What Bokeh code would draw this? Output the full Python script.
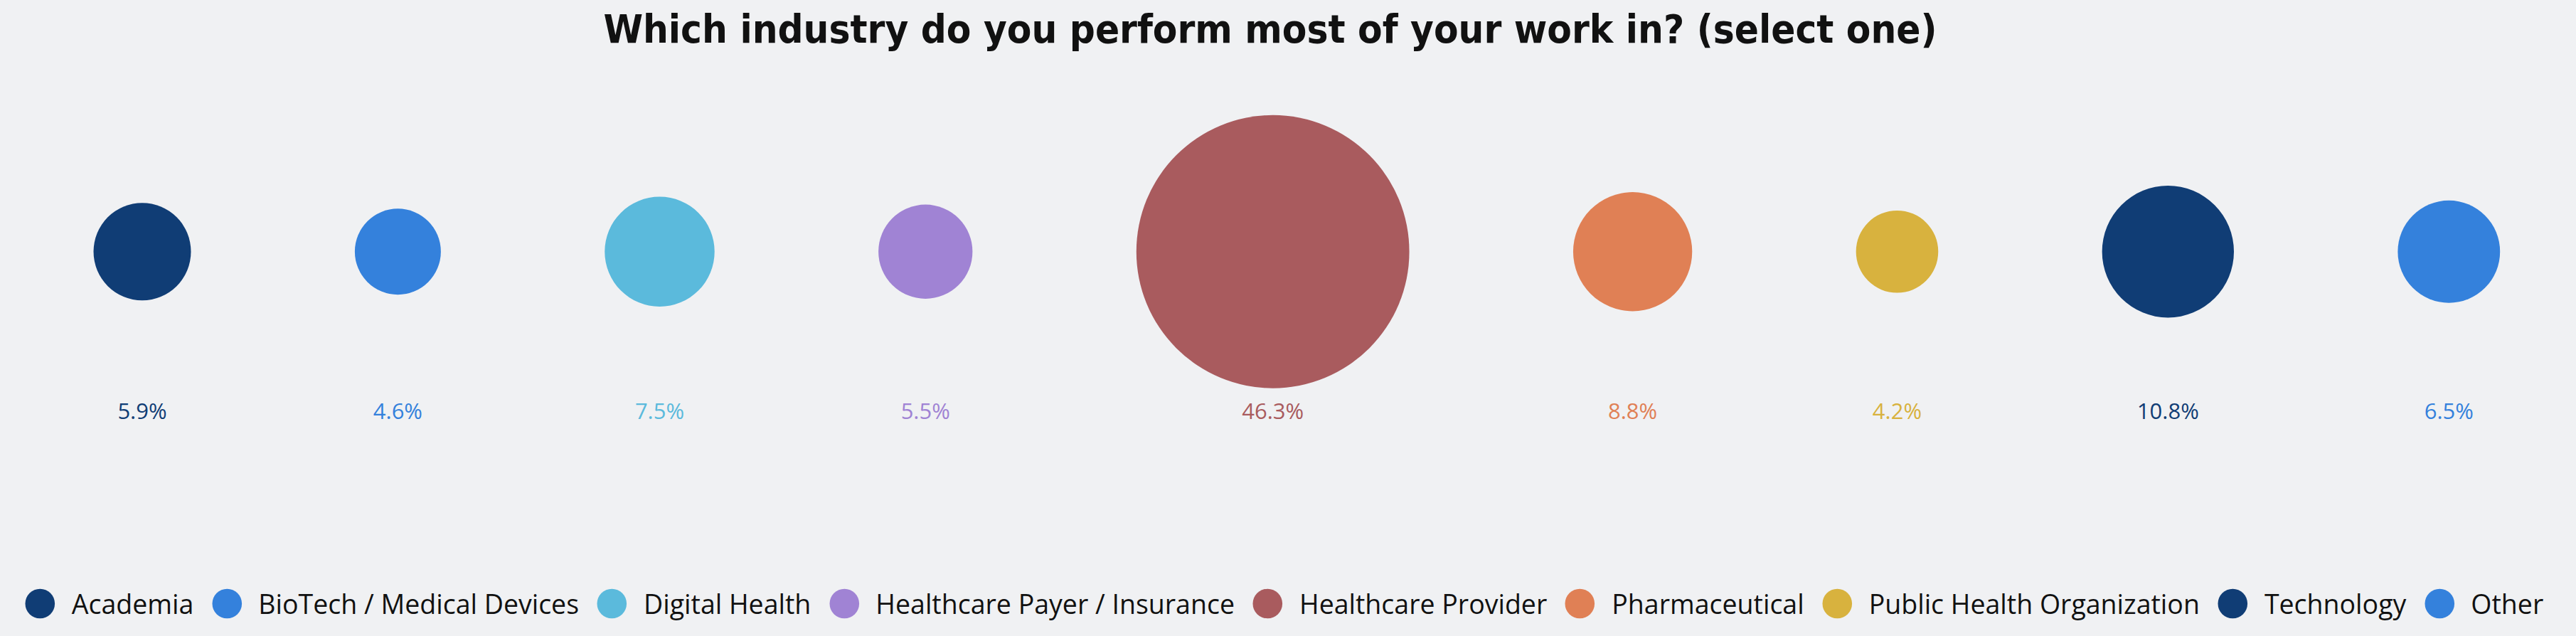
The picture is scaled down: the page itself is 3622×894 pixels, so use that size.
import numpy as np
from bokeh.plotting import figure
from bokeh.models import ColumnDataSource, Range1d, Legend, LegendItem, GlobalInlineStyleSheet
from bokeh.core.properties import value
from bokeh.embed import file_html
from bokeh.resources import INLINE

# ---- data ----
categories = ["Academia", "BioTech / Medical Devices", "Digital Health",
              "Healthcare Payer / Insurance", "Healthcare Provider", "Pharmaceutical",
              "Public Health Organization", "Technology", "Other"]
values = [5.9, 4.6, 7.5, 5.5, 46.3, 8.8, 4.2, 10.8, 6.5]
labels = ["5.9%", "4.6%", "7.5%", "5.5%", "46.3%", "8.8%", "4.2%", "10.8%", "6.5%"]
colors = ["#103D75", "#3481DC", "#5BBADC", "#A083D4", "#A95B5E",
          "#E08055", "#D8B23E", "#103D75", "#3481DC"]

TITLE = "Which   industry do you perform most of your work in? (select one)"
BG = "#F0F1F3"

W, H = 3606, 878
TITLE_H = 69                 # approx. title panel height
FRAME_H = H - TITLE_H

# bubble area proportional to value (pixels)
K = 28.2
radii = K * np.sqrt(np.array(values))
GAP = 230.4
centers = []
edge = 0.0
for r in radii:
    centers.append(edge + r)
    edge += 2 * r + GAP

BUBBLE_Y = FRAME_H - (356 - 8 - TITLE_H)
LABEL_Y = FRAME_H - (581 - 8 - TITLE_H)

src = ColumnDataSource(dict(
    x=centers, y=[BUBBLE_Y] * len(values), d=list(2 * radii),
    ly=[LABEL_Y] * len(values), cat=categories, lab=labels, col=colors,
))

LEFT = 131
p = figure(width=W, height=H, output_backend="svg", toolbar_location=None,
           x_range=Range1d(-LEFT, W - LEFT), y_range=Range1d(0, FRAME_H),
           min_border=0, background_fill_color=BG, border_fill_color=BG,
           outline_line_color=None, x_axis_type=None, y_axis_type=None)
p.grid.visible = False
p.stylesheets = [GlobalInlineStyleSheet(css=f"body {{ background: {BG}; }}")]

p.title.text = TITLE
p.title.align = "center"
p.title.text_font_size = "56px"
p.title.text_font_style = "bold"
p.title.text_font = "'Liberation Sans Narrow', 'DejaVu Sans Condensed', sans-serif"
p.title.text_color = "#111111"

r = p.ellipse(x="x", y="y", width="d", height="d", width_units="screen",
              height_units="screen", fill_color="col", line_color=None, source=src)

p.text(x="x", y="ly", text="lab", text_color="col", text_align="center",
       text_baseline="middle", text_font=value("Open Sans"), text_font_size="31px",
       source=src)

items = [LegendItem(label=c, renderers=[r], index=i) for i, c in enumerate(categories)]
legend = Legend(items=items, orientation="horizontal", location="bottom_center",
                glyph_width=52, glyph_height=52, label_standoff=19, spacing=20,
                padding=0, margin=4, border_line_color=None, background_fill_alpha=0,
                label_text_font="Open Sans", label_text_font_size="37.5px",
                label_text_color="#111111", label_height=52)
p.add_layout(legend)

open("out.html", "w").write(file_html(p, INLINE))
